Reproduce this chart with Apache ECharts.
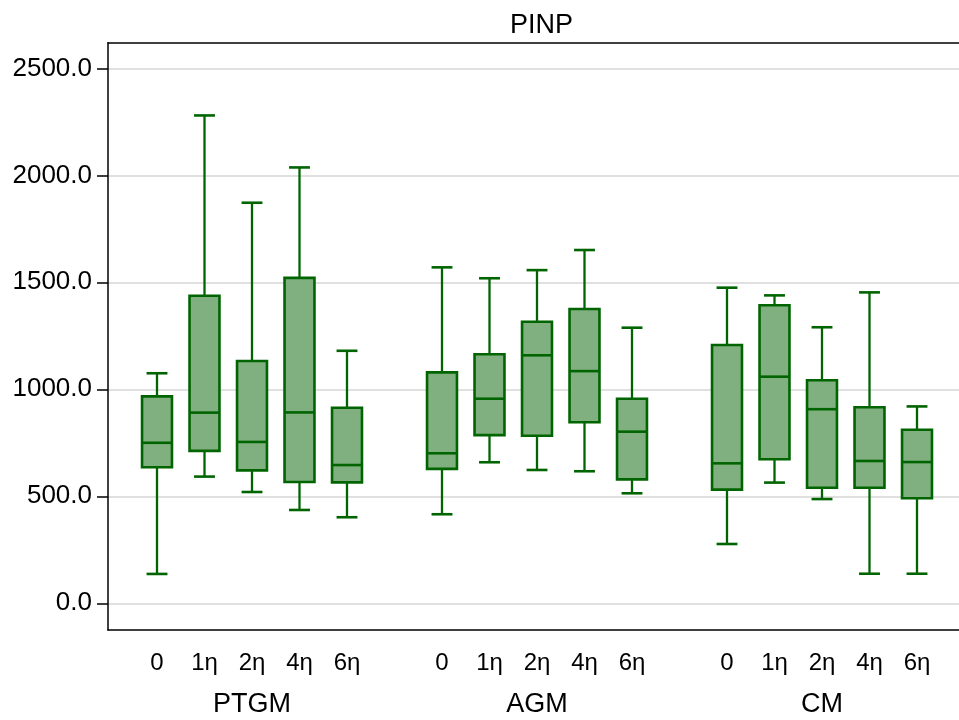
<!DOCTYPE html>
<html>
<head>
<meta charset="utf-8">
<script src="https://cdn.jsdelivr.net/npm/echarts@6/dist/echarts.min.js"></script>
<style>
html,body{margin:0;padding:0;background:#fff;}
#chart{width:959px;height:720px;}
</style>
</head>
<body>
<div id="chart"></div>
<script>
// ---- Data ----
const title = 'PINP';
const groups = ['PTGM', 'AGM', 'CM'];
const times = ['0', '1η', '2η', '4η', '6η'];
const yTicks = [0, 500, 1000, 1500, 2000, 2500];
// each entry: [lower whisker, Q1, median, Q3, upper whisker]
const ptgm = [
  [137, 636, 750, 967, 1075],
  [592, 712, 891, 1437, 2280],
  [520, 621, 754, 1132, 1872],
  [436, 567, 892, 1521, 2037],
  [402, 565, 646, 914, 1180]
];
const agm = [
  [416, 628, 701, 1079, 1570],
  [659, 786, 956, 1164, 1519],
  [623, 783, 1159, 1316, 1557],
  [617, 846, 1085, 1375, 1651],
  [514, 579, 802, 956, 1288]
];
const cm = [
  [277, 531, 654, 1207, 1475],
  [564, 673, 1059, 1393, 1439],
  [487, 540, 907, 1042, 1290],
  [138, 540, 665, 916, 1453],
  [138, 491, 660, 811, 920]
];
const groupData = [ptgm, agm, cm];

// ---- Build categories (with one blank slot between groups) ----
const cats = [];
const groupCats = [];
const boxData = [];
groupData.forEach((g, gi) => {
  if (gi > 0) { cats.push(''); groupCats.push(''); }
  g.forEach((d, ti) => {
    const idx = cats.length;
    cats.push(times[ti]);
    groupCats.push(ti === 2 ? groups[gi] : '');
    boxData.push([idx].concat(d));
  });
});

const yMin = -125, yMax = 2620;
const FONT = '"Liberation Sans", Arial, sans-serif';
const STROKE = '#006400';
const FILL = '#80b080';

function renderItem(params, api) {
  const x = api.value(0);
  const lo = api.coord([x, api.value(1)]);
  const q1 = api.coord([x, api.value(2)]);
  const md = api.coord([x, api.value(3)]);
  const q3 = api.coord([x, api.value(4)]);
  const hi = api.coord([x, api.value(5)]);
  const band = api.size([1, 0])[0];
  const bw = band * 0.63, cw = band * 0.44;
  const cx = lo[0];
  const ls = { stroke: STROKE, lineWidth: 2.3, fill: null };
  return {
    type: 'group',
    children: [
      { type: 'line', shape: { x1: cx, y1: hi[1], x2: cx, y2: q3[1] }, style: ls },
      { type: 'line', shape: { x1: cx, y1: q1[1], x2: cx, y2: lo[1] }, style: ls },
      { type: 'line', shape: { x1: cx - cw / 2, y1: hi[1], x2: cx + cw / 2, y2: hi[1] }, style: { stroke: STROKE, lineWidth: 2.6 } },
      { type: 'line', shape: { x1: cx - cw / 2, y1: lo[1], x2: cx + cw / 2, y2: lo[1] }, style: { stroke: STROKE, lineWidth: 2.6 } },
      { type: 'rect', shape: { x: cx - bw / 2, y: q3[1], width: bw, height: q1[1] - q3[1] }, style: { fill: FILL, stroke: STROKE, lineWidth: 2.6 } },
      { type: 'line', shape: { x1: cx - bw / 2, y1: md[1], x2: cx + bw / 2, y2: md[1] }, style: { stroke: STROKE, lineWidth: 2.6 } }
    ]
  };
}

const frameLine = { show: true, onZero: false, lineStyle: { color: '#000', width: 1.5 } };

const chart = echarts.init(document.getElementById('chart'), null, { renderer: 'canvas' });
chart.setOption({
  animation: false,
  backgroundColor: '#fff',
  textStyle: { fontFamily: FONT },
  title: {
    text: title,
    left: 505, top: 7,
    textStyle: { fontFamily: FONT, fontSize: 27, fontWeight: 'normal', color: '#000' }
  },
  grid: [
    { left: 108, top: 42.7, width: 858, height: 587.3, show: false, outerBoundsMode: 'none', containLabel: false },
    { left: 133.25, top: 42.7, width: 807.5, height: 587.3, outerBoundsMode: 'none', containLabel: false }
  ],
  xAxis: [
    { type: 'value', gridIndex: 0, min: 0, max: 1, position: 'bottom',
      axisLine: frameLine, axisTick: { show: false }, axisLabel: { show: false }, splitLine: { show: false } },
    {
      type: 'category', gridIndex: 1, data: cats, boundaryGap: true,
      axisLine: { show: false }, axisTick: { show: false },
      axisLabel: { interval: 0, fontSize: 24, color: '#000', margin: 21, fontFamily: FONT }
    },
    {
      type: 'category', gridIndex: 1, data: groupCats, boundaryGap: true, position: 'bottom', offset: 42,
      axisLine: { show: false }, axisTick: { show: false },
      axisLabel: { interval: 0, fontSize: 27, color: '#000', margin: 19, fontFamily: FONT }
    },
    { type: 'value', gridIndex: 0, min: 0, max: 1, position: 'top',
      axisLine: frameLine, axisTick: { show: false }, axisLabel: { show: false }, splitLine: { show: false } }
  ],
  yAxis: [
    {
      type: 'value', gridIndex: 0, min: yMin, max: yMax,
      axisLine: frameLine,
      axisTick: { show: true, length: 11, lineStyle: { color: '#000', width: 1.5 }, customValues: yTicks },
      axisLabel: { fontSize: 26, color: '#000', margin: 16, fontFamily: FONT, customValues: yTicks, formatter: v => v.toFixed(1) },
      splitLine: { show: true, lineStyle: { color: '#e0e0e0', width: 2 } }
    },
    { type: 'value', gridIndex: 1, min: yMin, max: yMax, show: false, splitLine: { show: false } }
  ],
  series: [{
    type: 'custom',
    xAxisIndex: 1, yAxisIndex: 1,
    renderItem: renderItem,
    encode: { x: 0, y: [1, 2, 3, 4, 5] },
    data: boxData,
    clip: false
  }]
});
</script>
</body>
</html>
